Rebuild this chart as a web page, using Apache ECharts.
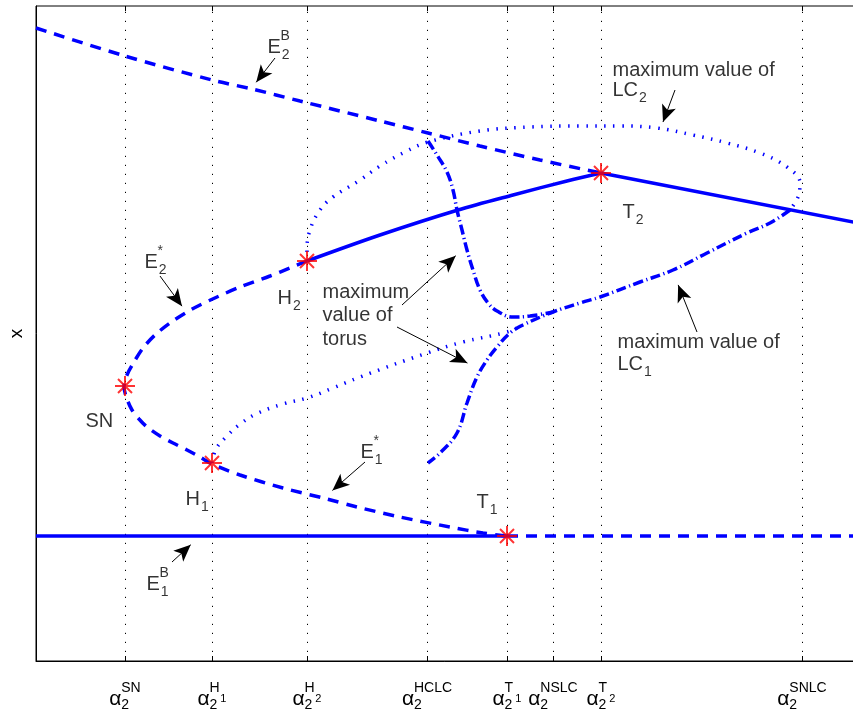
<!DOCTYPE html>
<html><head><meta charset="utf-8">
<script src="https://cdn.jsdelivr.net/npm/echarts@6.0.0/dist/echarts.min.js"></script>
<style>html,body{margin:0;padding:0;background:#fff}#c{width:853px;height:723px}</style>
</head><body><div id="c"></div>
<script>
// ---- data (x: parameter axis units, y: state x units) ----
const tickValues = [89, 176, 271, 391, 471, 517, 565, 766];
const tickSup = ['SN', 'H', 'H', 'HCLC', 'T', 'NSLC', 'T', 'SNLC'];
const tickSupSub = ['', '1', '2', '', '1', '', '2', ''];

const e1bStable = [[0,125],[471,125]];
const e1bUnstable = [[471,125],[822,125]];
const e2bUnstable = [[0,633],[89,605],[176,581],[216,572],[264,560],[344,540],[392,528],[444,515],[504,501],[565,488]];
const upperStableLeft = [[271,400],[344,426],[422,451],[477,466],[531,480],[565,488]];
const upperStableRight = [[565,488],[822,438]];
const lowerUnstable = [[271,400],[254,393],[234,385],[204,374],[181,364],[164,356],[151,349],[134,338],[119,326],[107,313],[98,299],[91,286],[88,274],[91,262],[96,251],[103,242],[111,234],[124,225],[137,218],[151,211],[164,204],[176,197],[204,186],[247,173],[291,162],[321,154],[364,144],[414,134],[447,128],[471,125]];
const lc2Max = [[271,400],[271,411],[274,431],[284,451],[297,464],[324,481],[344,495],[369,509],[392,519],[444,530],[494,534],[544,535],[584,535],[621,533],[657,526],[691,518],[724,508],[751,494],[764,478],[762,464],[754,451]];
const lc1MaxStable = [[754,451],[734,438],[711,428],[671,408],[637,391],[604,379],[564,364],[544,358],[517,349],[487,336],[474,328],[461,314],[451,301],[441,284],[431,258],[421,228],[404,208],[392,198]];
const torusUpper = [[392,520],[401,506],[411,489],[417,471],[421,451],[426,431],[431,411],[437,391],[444,371],[452,358],[461,350],[477,344],[494,345],[517,349]];
const lc1MaxUnstable = [[176,198],[180,212],[190,224],[203,236],[220,247],[247,257],[271,263],[297,273],[324,284],[391,308],[427,319],[471,329],[487,336]];
const bifPoints = [[89,275],[176,198],[271,400],[471,125],[565,488]];

const labelTexts = [['E','2','B'],['E','2','*'],['H','2',''],['SN','',''],['H','1',''],['E','1','*'],['T','1',''],['E','1','B'],['T','2',''],['LC','2',''],['LC','1','']];
const labelPos = [[232,617.5],[109,402.5],[242,366.5],[50,243.5],[150,165.5],[325,212.5],[441,162.5],[111,80.5],[587,452.5],[577,574.5],[582,300.5]];
const noteTexts = ['maximum value of','maximum value of','maximum','value of','torus'];
const notePos = [[577,594.5],[582,322.5],[287,372.5],[287,349.5],[287,325.5]];
const arrows = [[239,603,215,572],[124,385,151,348],[329,199,290,165],[136,99,161,122],[639,571,624,531],[661,329,639,384],[366,356,426,411],[361,334,439,294]];

// ---- styles ----
const FONT = "'Liberation Sans', Arial, Helvetica, sans-serif";
const BLUE = '#0000ff';
const DASH = [11, 8];
const DOT = [1.5, 7.5];
const DASHDOT = [10, 3.5, 1.2, 3.5];
const ARROW_H = 17;

function lineSeries(data, type, width, smooth, z) {
  return {
    type: 'line', data: data, showSymbol: false, symbol: 'none', smooth: smooth,
    lineStyle: { color: BLUE, width: width, type: type, cap: 'butt' },
    silent: true, z: z || 3, animation: false
  };
}

const richText = {
  m: { fontSize: 20, lineHeight: 12, verticalAlign: 'top', align: 'left', color: '#000', fontFamily: FONT },
  sub: { fontSize: 14, lineHeight: 10, padding: [11, 0, 0, 1], verticalAlign: 'top', align: 'left', color: '#000', fontFamily: FONT },
  sup: { fontSize: 14, lineHeight: 8, verticalAlign: 'top', align: 'left', color: '#000', fontFamily: FONT },
  sp: { fontSize: 14, lineHeight: 8, width: 13, align: 'left', fontFamily: FONT }
};

const annData = labelTexts.map(function (t, i) {
  let s;
  if (t[2]) {
    s = '{sp| }{sup|' + t[2] + '}\n{m|' + t[0] + '}{sub|' + t[1] + '}';
  } else {
    s = '{m|' + t[0] + '}' + (t[1] ? '{sub|' + t[1] + '}' : '');
  }
  return { value: labelPos[i], label: { formatter: s, position: [0, t[2] ? -14 : -6] } };
}).concat(noteTexts.map(function (t, i) {
  return { value: notePos[i], label: { formatter: '{m|' + t + '}', position: [0, -6] } };
}));

const arrowData = arrows.map(function (a) {
  const dx = a[2] - a[0], dy = a[3] - a[1];
  const L = Math.sqrt(dx * dx + dy * dy);
  const k = (L - ARROW_H / 2) / L;
  return [
    { coord: [a[0], a[1]], symbol: 'none' },
    { coord: [a[0] + dx * k, a[1] + dy * k], symbol: 'arrow' }
  ];
});

const starPath = 'path://M0 9L20 9L20 11L0 11Z M9 0L11 0L11 20L9 20Z M2.3 3.7L3.7 2.3L17.7 16.3L16.3 17.7Z M16.3 2.3L17.7 3.7L3.7 17.7L2.3 16.3Z';

const chart = echarts.init(document.getElementById('c'), null, { renderer: 'canvas' });
chart.setOption({
  animation: false,
  backgroundColor: '#fff',
  grid: { left: 36, right: -5, top: 6, bottom: 62, show: true, borderColor: '#000', borderWidth: 1, containLabel: false, outerBoundsMode: 'none' },
  xAxis: [{
    type: 'value', position: 'bottom', min: 0, max: 822,
    axisLine: { show: true, lineStyle: { color: '#000', width: 1 } },
    splitLine: { show: false },
    axisTick: { show: true, inside: true, length: 5, customValues: tickValues, lineStyle: { color: '#000' } },
    axisLabel: {
      show: true, customValues: tickValues, margin: 20, hideOverlap: false, color: '#000', fontFamily: FONT,
      formatter: function (v) {
        const i = tickValues.findIndex(function (t) { return Math.abs(t - v) < 0.01; });
        if (i < 0) return '';
        let l2 = '{ta|α}{tsub|2}';
        if (tickSupSub[i]) l2 += '{tss|' + tickSupSub[i] + '}';
        return '{tsp| }{tsup|' + tickSup[i] + '}\n' + l2;
      },
      rich: {
        tsp: { fontSize: 14, lineHeight: 8, width: 12, align: 'left', fontFamily: FONT },
        tsup: { fontSize: 14, lineHeight: 8, verticalAlign: 'top', align: 'left', color: '#000', fontFamily: FONT },
        ta: { fontSize: 21, lineHeight: 4, width: 12, verticalAlign: 'top', align: 'left', color: '#000', fontFamily: FONT },
        tsub: { fontSize: 14, lineHeight: 10, padding: [9, 0, 0, 0], verticalAlign: 'top', align: 'left', color: '#000', fontFamily: FONT },
        tss: { fontSize: 11, lineHeight: 10, padding: [4, 0, 0, 3], verticalAlign: 'top', align: 'left', color: '#000', fontFamily: FONT }
      }
    }
  }, {
    type: 'value', position: 'top', min: 0, max: 822,
    axisLine: { show: false },
    splitLine: { show: false },
    axisTick: { show: true, inside: true, length: 5, customValues: tickValues, lineStyle: { color: '#000' } },
    axisLabel: { show: false }
  }],
  yAxis: {
    type: 'value', min: 0, max: 655,
    name: 'x', nameLocation: 'middle', nameRotate: 90, nameGap: 10,
    nameTextStyle: { fontSize: 19, color: '#000', fontFamily: FONT },
    axisLine: { show: true, lineStyle: { color: '#000', width: 1 } },
    axisTick: { show: false }, axisLabel: { show: false }, splitLine: { show: false }
  },
  series: [
    {
      type: 'line', data: e1bStable, showSymbol: false, symbol: 'none',
      lineStyle: { color: BLUE, width: 3.5 }, silent: true, z: 3,
      markLine: {
        silent: true, z: 1, symbol: ['none', 'none'], animation: false,
        label: { show: false },
        lineStyle: { color: '#000', width: 1, type: [1.2, 7.8] },
        data: tickValues.map(function (v) { return { xAxis: v }; })
      }
    },
    lineSeries(e1bUnstable, DASH, 3.5, false),
    lineSeries(e2bUnstable, DASH, 3.5, 0.3),
    lineSeries(upperStableLeft, 'solid', 3.5, 0.3),
    lineSeries(upperStableRight, 'solid', 3.5, false),
    lineSeries(lowerUnstable, DASH, 3.5, 0.3),
    lineSeries(lc2Max, DOT, 3.5, 0.4),
    lineSeries(lc1MaxStable, DASHDOT, 3.5, 0.4),
    lineSeries(torusUpper, DASHDOT, 3.5, 0.4),
    lineSeries(lc1MaxUnstable, DOT, 3.5, 0.4),
    {
      type: 'scatter', data: bifPoints, symbol: starPath, symbolSize: 20,
      itemStyle: { color: '#ff0000' }, silent: true, z: 10
    },
    {
      type: 'scatter', data: annData, symbol: 'circle', symbolSize: 1,
      itemStyle: { color: 'rgba(0,0,0,0)' }, silent: true, z: 11,
      label: { show: true, position: [0, 0], align: 'left', verticalAlign: 'top', rich: richText, color: '#000', fontFamily: FONT },
      labelLayout: { hideOverlap: false },
      markLine: {
        silent: true, z: 6, animation: false, symbolSize: [11, ARROW_H],
        label: { show: false },
        lineStyle: { color: '#000', width: 1, type: 'solid' },
        itemStyle: { color: '#000' },
        data: arrowData
      }
    }
  ]
});
</script>
</body></html>
